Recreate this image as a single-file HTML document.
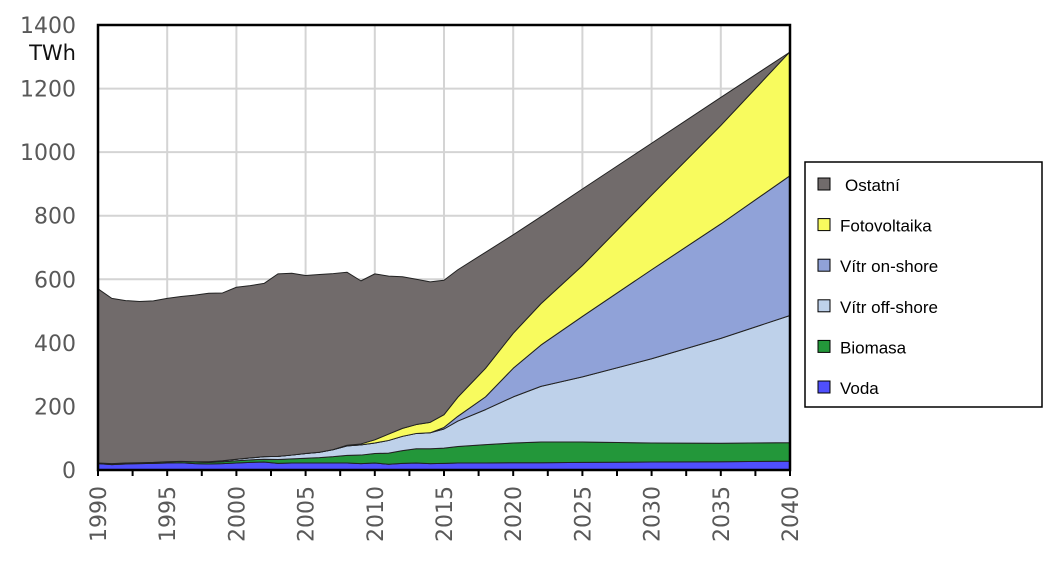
<!DOCTYPE html>
<html><head><meta charset="utf-8"><style>
body{margin:0;background:#fff;width:1062px;height:570px;overflow:hidden;font-family:"Liberation Sans","DejaVu Sans",sans-serif}
</style></head><body>
<svg id="chart" width="1062" height="570" xmlns="http://www.w3.org/2000/svg">
<g id="grid"></g>
<g id="areas"></g>
<g id="axes"></g>
<text x="76" y="60" text-anchor="end" font-size="21" fill="#111" font-family="DejaVu Sans, sans-serif">TWh</text>
<g>
<rect x="805" y="162" width="237" height="245" fill="#fff" stroke="#000" stroke-width="1.5"/>
<g id="legend"></g>
</g>
</svg>
<script>
const years=[1990,1991,1992,1993,1994,1995,1996,1997,1998,1999,2000,2001,2002,2003,2004,2005,2006,2007,2008,2009,2010,2011,2012,2013,2014,2015,2016,2018,2020,2022,2025,2030,2035,2040];
const voda=[20,17,19,20,21,22,23,20,19,20,22,24,25,21,22,22,22,22,22,20,22,18,21,22,20,21,22,22,23,23,24,25,26,28];
const biomasa=[2,3,3,3,3,4,4,5,5,6,7,8,9,12,13,15,17,20,24,27,30,35,40,45,47,48,52,58,62,65,64,60,58,58];
const offshore=[0,0,0,0,0,0,0,1,2,3,5,6,8,10,12,15,17,22,30,32,33,40,45,48,50,60,80,110,145,175,205,265,330,400];
const onshore=[0,0,0,0,0,0,0,0,0,0,0,0,0,0,0,0,0,0,0,0,0,0,0,0,0,5,15,40,90,130,190,280,360,440];
const fotovoltaika=[0,0,0,0,0,0,0,0,0,0,0,0,0,0,0,0,0,0,2,3,10,20,25,28,33,40,60,90,110,130,160,235,310,390];
const total=[570,540,533,530,532,540,546,550,556,557,575,580,587,617,619,612,615,618,622,595,617,610,608,600,592,597,630,685,740,797,884,1028,1172,1315];
const yTicks=[0,200,400,600,800,1000,1200,1400];
const xTicks=[1990,1995,2000,2005,2010,2015,2020,2025,2030,2035,2040];
const seriesNames=["Voda","Biomasa","Vítr off-shore","Vítr on-shore","Fotovoltaika","Ostatní"];
const seriesColors=["#4f4ffd","#23973a","#bed1ea","#90a2d8","#f8fb5e","#716b6b"];
const ostatni=total.map((t,i)=>t-voda[i]-biomasa[i]-offshore[i]-onshore[i]-fotovoltaika[i]);
const series=[voda,biomasa,offshore,onshore,fotovoltaika,ostatni];
const X0=98,X1=790,Y0=470,Y1=25;
const xs=y=>X0+(y-1990)/50*(X1-X0);
const ys=v=>Y0-v/1400*(Y0-Y1);
const NS="http://www.w3.org/2000/svg";
function mk(tag,attrs,parent){const e=document.createElementNS(NS,tag);for(const k in attrs)e.setAttribute(k,attrs[k]);parent.appendChild(e);return e;}
const grid=document.getElementById('grid'),axes=document.getElementById('axes'),areas=document.getElementById('areas'),legend=document.getElementById('legend');
yTicks.forEach(v=>{
 if(v>0&&v<1400){const l=mk('line',{x1:X0,x2:X1,y1:ys(v),y2:ys(v),stroke:'#d4d4d4','stroke-width':2},grid);
 
 }
 const t=mk('text',{x:76,y:ys(v)+8,'text-anchor':'end','font-size':22,fill:'#595959','font-family':'DejaVu Sans, sans-serif'},axes);t.textContent=v;
 
 
});
xTicks.forEach(yr=>{
 if(yr>1990&&yr<2040){const l=mk('line',{x1:xs(yr),x2:xs(yr),y1:Y1,y2:Y0,stroke:'#d4d4d4','stroke-width':2},grid);
 
 }
 const t=mk('text',{transform:`translate(${xs(yr)+8},486) rotate(-90)`,'text-anchor':'end','font-size':22,fill:'#595959','font-family':'DejaVu Sans, sans-serif'},axes);t.textContent=yr;
 
 
});
let base=years.map(()=>0);
series.forEach((s,k)=>{
 const top=base.map((b,i)=>b+s[i]);
 let d='M'+years.map((y,i)=>xs(y)+','+ys(top[i])).join('L');
 for(let i=years.length-1;i>=0;i--)d+='L'+xs(years[i])+','+ys(base[i]);
 const p=mk('path',{d:d+'Z',fill:seriesColors[k],stroke:'#222','stroke-width':1,'stroke-linejoin':'round'},areas);
 
 
 base=top;
});
mk('rect',{x:X0,y:Y1,width:X1-X0,height:Y0-Y1,fill:'none',stroke:'#000','stroke-width':2.5},axes);
for(let yr=1990;yr<=2040;yr+=2.5){const l=mk('line',{x1:xs(yr),x2:xs(yr),y1:Y0,y2:Y0+6,stroke:'#000','stroke-width':2},axes);
 
 }
for(let k=5;k>=0;k--){
 const y=185+(5-k)*40.6;
 const r=mk('rect',{x:818,y:y-7,width:12,height:12,fill:seriesColors[k],stroke:'#000','stroke-width':1},legend);
 
 
 const t=mk('text',{x:k==5?845:840,y:y+6,'font-size':17,fill:'#000'},legend);t.textContent=seriesNames[k];
 
 
}
</script>
</body></html>
